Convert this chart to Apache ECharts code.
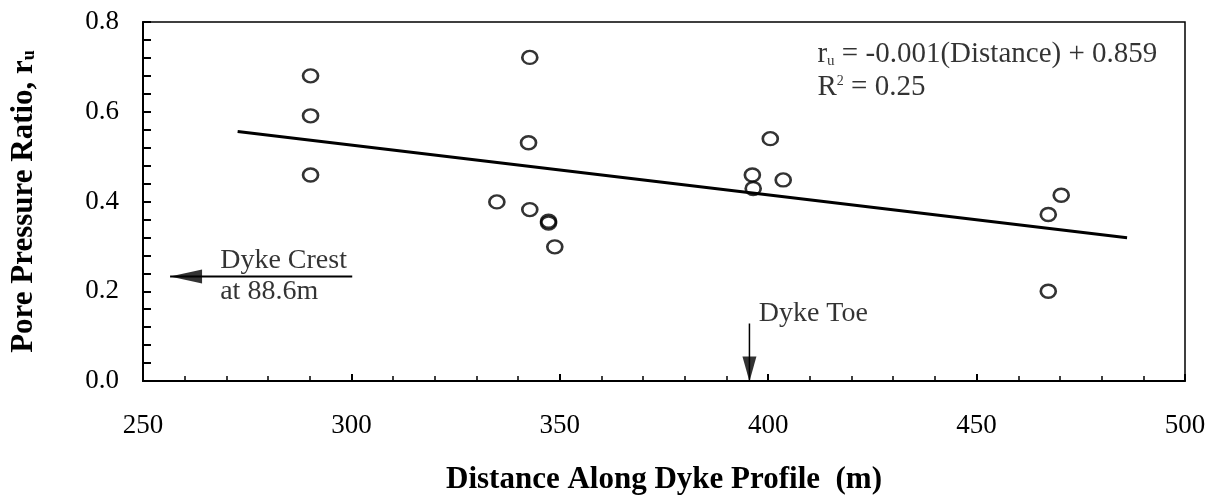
<!DOCTYPE html>
<html>
<head>
<meta charset="utf-8">
<script src="https://cdn.jsdelivr.net/npm/echarts@6/dist/echarts.min.js"></script>
<style>
html,body{margin:0;padding:0;background:#fff;}
#chart{width:1221px;height:500px;}
</style>
</head>
<body>
<div id="chart"></div>
<script>
// Measured data points (distance m, pore pressure ratio)
var distance = [290.2, 290.2, 290.2, 342.8, 342.5, 334.9, 342.8, 347.3, 347.3, 348.8, 400.5, 396.2, 396.4, 403.6, 470.3, 467.2, 467.2];
var ratio    = [0.680, 0.591, 0.459, 0.721, 0.531, 0.399, 0.382, 0.356, 0.352, 0.299, 0.540, 0.459, 0.429, 0.448, 0.414, 0.371, 0.200];

// Trend line end points
var trendX = [272.7, 486.1];
var trendY = [0.556, 0.319];

// Axis ticks
var xTicks = [250, 300, 350, 400, 450, 500];
var yTicks = [0.0, 0.2, 0.4, 0.6, 0.8];

// Annotation anchors
var crestArrowX = [300.2, 256.5];
var crestArrowY = 0.233;
var toeArrowX = 395.5;
var toeArrowY = [0.128, 0.0];
var crestText1 = [268.4, 0.268];
var crestText2 = [268.4, 0.200];
var toeText = [397.6, 0.150];
var eqText1 = [411.7, 0.728];
var eqText2 = [411.7, 0.655];

var serif = '"Liberation Serif", "Times New Roman", serif';

var pts = distance.map(function (d, i) { return [d, ratio[i]]; });
var trend = trendX.map(function (d, i) { return [d, trendY[i]]; });

var chart = echarts.init(document.getElementById('chart'));
chart.setOption({
  animation: false,
  backgroundColor: '#fff',
  grid: { left: 141, right: 36, top: 22, bottom: 103, show: true, borderColor: '#000', borderWidth: 1.5, backgroundColor: 'transparent' },
  xAxis: {
    type: 'value', min: xTicks[0], max: xTicks[xTicks.length - 1], interval: 50,
    name: 'Distance Along Dyke Profile  (m)', nameLocation: 'middle', nameGap: 83,
    nameTextStyle: { fontFamily: serif, fontWeight: 'bold', fontSize: 31, color: '#000' },
    axisLine: { lineStyle: { color: '#000', width: 2 } },
    axisTick: { inside: true, length: 7, lineStyle: { color: '#000', width: 2 } },
    minorTick: { show: true, splitNumber: 5, length: 5, lineStyle: { color: '#000', width: 1.5 } },
    axisLabel: { fontFamily: serif, fontSize: 27, color: '#000', margin: 31 },
    splitLine: { show: false }
  },
  yAxis: {
    type: 'value', min: yTicks[0], max: yTicks[yTicks.length - 1], interval: 0.2,
    name: '{n|Pore Pressure Ratio, r}{s|u}', nameLocation: 'middle', nameGap: 104, nameRotate: 90,
    nameTextStyle: {
      rich: {
        n: { fontFamily: serif, fontWeight: 'bold', fontSize: 31, color: '#000' },
        s: { fontFamily: serif, fontWeight: 'bold', fontSize: 18, color: '#000', padding: [12, 0, 0, 0] }
      }
    },
    axisLine: { lineStyle: { color: '#000', width: 2 } },
    axisTick: { inside: true, length: 8, lineStyle: { color: '#000', width: 2 } },
    minorTick: { show: true, splitNumber: 5, length: 8, lineStyle: { color: '#000', width: 2 } },
    axisLabel: { fontFamily: serif, fontSize: 27, color: '#000', margin: 24, formatter: function (v) { return v.toFixed(1); } },
    splitLine: { show: false }
  },
  series: [
    {
      type: 'line', data: trend, symbol: 'none', silent: true,
      lineStyle: { color: '#000', width: 3 }, z: 2
    },
    {
      type: 'scatter', data: pts, symbol: 'circle', symbolSize: [15, 13],
      itemStyle: { color: 'rgba(255,255,255,0)', borderColor: '#000', borderWidth: 2.5 }, z: 3
    },
    {
      // Dyke crest arrow shaft
      type: 'line', data: crestArrowX.map(function (x) { return [x, crestArrowY]; }),
      symbol: 'none', lineStyle: { color: '#000', width: 2 }, silent: true
    },
    {
      // Dyke toe arrow shaft
      type: 'line', data: toeArrowY.map(function (y) { return [toeArrowX, y]; }),
      symbol: 'none', lineStyle: { color: '#000', width: 1.5 }, silent: true
    },
    {
      // Arrow heads
      type: 'scatter', silent: true,
      data: [
        { value: [crestArrowX[1], crestArrowY], symbol: 'triangle', symbolSize: [14, 32], symbolRotate: 90, symbolOffset: [16, 0] },
        { value: [toeArrowX, toeArrowY[1]], symbol: 'triangle', symbolSize: [14, 25], symbolRotate: 180, symbolOffset: [0, -12] }
      ],
      itemStyle: { color: '#000' }
    },
    {
      // Text annotations
      type: 'scatter', silent: true, symbol: 'circle', symbolSize: 1,
      itemStyle: { color: 'rgba(0,0,0,0)' },
      label: { show: true, position: 'right', distance: 0, color: '#000', fontFamily: serif, fontSize: 28 },
      data: [
        { value: crestText1, label: { formatter: 'Dyke Crest' } },
        { value: crestText2, label: { formatter: 'at 88.6m' } },
        { value: toeText, label: { formatter: 'Dyke Toe' } },
        { value: eqText1, label: { formatter: '{a|r}{s|u}{a| = -0.001(Distance) + 0.859}', rich: {
            a: { fontFamily: serif, fontSize: 29, color: '#000' },
            s: { fontFamily: serif, fontSize: 15, color: '#000', padding: [14, 0, 0, 0] } } } },
        { value: eqText2, label: { formatter: '{a|R}{p|2}{a| = 0.25}', rich: {
            a: { fontFamily: serif, fontSize: 29, color: '#000' },
            p: { fontFamily: serif, fontSize: 14, color: '#000', padding: [0, 0, 12, 0] } } } }
      ]
    }
  ]
});
</script>
</body>
</html>
